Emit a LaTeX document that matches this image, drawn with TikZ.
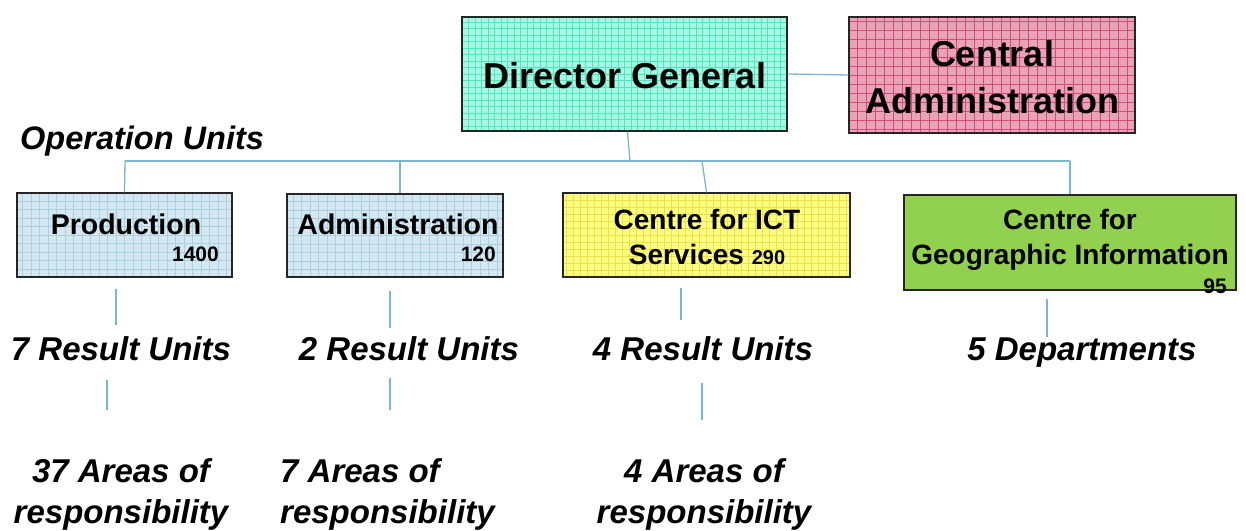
\documentclass[tikz,border=0pt]{standalone}
\usepackage{fontspec}
\setmainfont{Liberation Sans}
\definecolor{dgfill}{HTML}{A6F8E2}
\definecolor{dggrid}{HTML}{4FE6C2}
\definecolor{cafill}{HTML}{E9A3B8}
\definecolor{cagrid}{HTML}{D44A7A}
\definecolor{oufill}{HTML}{D5E7F0}
\definecolor{ougrid}{HTML}{A9D1E1}
\definecolor{ictfill}{HTML}{FFFF80}
\definecolor{ictgrid}{HTML}{EEE04A}
\definecolor{geofill}{HTML}{92D050}
\definecolor{conncol}{HTML}{7BB6CF}
\tikzset{
  box/.style={draw=black!85, line width=1.4pt, inner sep=0pt},
  gridded/.style n args={3}{fill=#1, path picture={\draw[draw=#2, line width=0.6pt] (path picture bounding box.south west) grid[step=#3] (path picture bounding box.north east);}},
  conn/.style={draw=conncol, line width=1.3pt},
  big/.style={font=\bfseries\fontsize{36}{47}\selectfont, align=center, inner sep=0pt},
  unit/.style={font=\bfseries\fontsize{28.5}{35}\selectfont, align=center, inner sep=0pt},
  num/.style={font=\bfseries\fontsize{21}{21}\selectfont, inner sep=0pt},
  lbl/.style={font=\bfseries\itshape\fontsize{33}{41}\selectfont, align=center, inner sep=0pt},
}
\begin{document}
\begin{tikzpicture}[x=1pt,y=-1pt]
\useasboundingbox (0,0) rectangle (1246,530);
% boxes
\node[box, gridded={dgfill}{dggrid}{6.5pt}, minimum width=325pt, minimum height=114pt] (dg) at (624.5,74) {};
\node[box, gridded={cafill}{cagrid}{9pt}, minimum width=286pt, minimum height=116pt] (ca) at (992,75) {};
\node[box, gridded={oufill}{ougrid}{8.5pt}, minimum width=215pt, minimum height=84pt] (prod) at (124.5,235) {};
\node[box, gridded={oufill}{ougrid}{8.5pt}, minimum width=216pt, minimum height=83pt] (adm) at (395,235.5) {};
\node[box, gridded={ictfill}{ictgrid}{7pt}, minimum width=287pt, minimum height=84pt] (ict) at (706.5,235) {};
\node[box, fill=geofill, minimum width=332pt, minimum height=95pt] (geo) at (1070,242.5) {};
% box texts
\node[big] (dgt) at (625,76) {Director General};
\node[big] (cat) at (992,77.5) {Central\\Administration};
\node[unit] (prodt) at (126,224.5) {Production};
\node[num, anchor=east] (prodn) at (219,254) {1400};
\node[unit] (admt) at (398,224.5) {Administration};
\node[num, anchor=east] (admn) at (496,254) {120};
\node[unit, font=\bfseries\fontsize{28}{35}\selectfont] (ictt) at (707,237) {Centre for ICT\\Services {\fontsize{20}{20}\selectfont 290}};
\node[unit, font=\bfseries\fontsize{28}{35}\selectfont] (geot) at (1070,240) {Centre for\\Geographic Information};
\node[num, anchor=east] (geon) at (1227,286) {95};
% labels
\node[lbl, font=\bfseries\itshape\fontsize{32.5}{36}\selectfont, anchor=base west] (ops) at (20,149) {Operation Units};
\node[lbl, anchor=base] (ru1) at (121,360) {7 Result Units};
\node[lbl, anchor=base] (ru2) at (409,360) {2 Result Units};
\node[lbl, anchor=base] (ru3) at (703,360) {4 Result Units};
\node[lbl, anchor=base] (dep) at (1082,360) {5 Departments};
\node[lbl] (ar1) at (121,494) {37 Areas of\\responsibility};
\node[lbl, align=left, anchor=west] (ar2) at (280,494) {7 Areas of\\responsibility};
\node[lbl] (ar3) at (704,494) {4 Areas of\\responsibility};
% connectors
\coordinate (busL) at (125,161);
\coordinate (busA) at (400,161);
\coordinate (busI) at (702,161);
\coordinate (busR) at (1070,161);
\coordinate (busM) at (630,161);
\draw[conn] (dg.east) -- (ca.west);
\draw[conn] (busL) -- (busR);
\draw[conn] ([xshift=3pt]dg.south) -- (busM);
\draw[conn] (busL) -- (prod.north);
\draw[conn] (busA) -- ([xshift=5pt]adm.north);
\draw[conn] (busI) -- (ict.north);
\draw[conn] (busR) -- (geo.north);
% free segments
\coordinate (p1a) at (116,289); \coordinate (p1b) at (116,325);
\coordinate (a1a) at (390,291); \coordinate (a1b) at (390,328);
\coordinate (i1a) at (681,288); \coordinate (i1b) at (681,320);
\coordinate (g1a) at (1047,299); \coordinate (g1b) at (1047,337);
\coordinate (p2a) at (107,380); \coordinate (p2b) at (107,410);
\coordinate (a2a) at (390,378); \coordinate (a2b) at (390,410);
\coordinate (i2a) at (702,383); \coordinate (i2b) at (702,420);
\draw[conn] (p1a) -- (p1b);
\draw[conn] (a1a) -- (a1b);
\draw[conn] (i1a) -- (i1b);
\draw[conn] (g1a) -- (g1b);
\draw[conn] (p2a) -- (p2b);
\draw[conn] (a2a) -- (a2b);
\draw[conn] (i2a) -- (i2b);
\end{tikzpicture}
\end{document}
